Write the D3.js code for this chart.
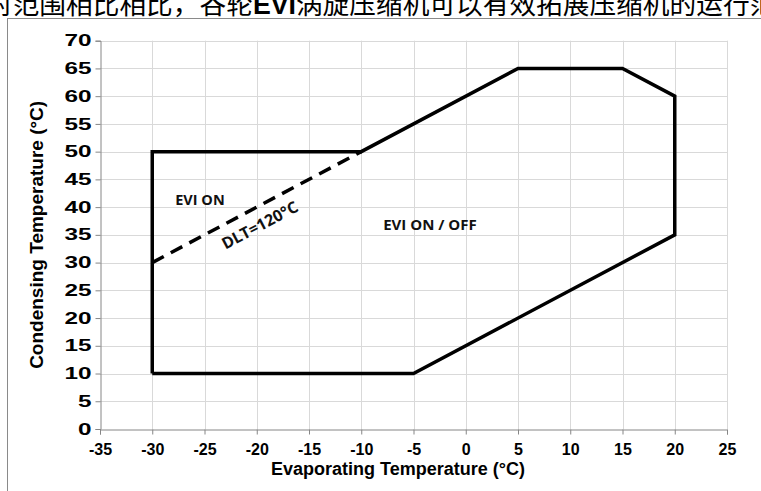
<!DOCTYPE html>
<html><head><meta charset="utf-8">
<script src="https://cdn.jsdelivr.net/npm/d3@7"></script>
<style>html,body{margin:0;padding:0;background:#fff;overflow:hidden}</style>
</head><body>
<svg id="c" width="761" height="491"></svg>
<script>
const topText = "对范围相比相比，谷轮EVI涡旋压缩机可以有效拓展压缩机的运行范围";
const xTicks = [-35,-30,-25,-20,-15,-10,-5,0,5,10,15,20,25];
const yTicks = [0,5,10,15,20,25,30,35,40,45,50,55,60,65,70];
const envelopeX = [-30,-30,-10,5,15,20,20,-5,-30];
const envelopeY = [10,50,50,65,65,60,35,10,10];
const dltX = [-30,-10];
const dltY = [30,50];
const labels = [
  {text:"EVI ON", x:-27.8, y:40.4, rot:false, size:14.5},
  {text:"EVI ON / OFF", x:-7.9, y:35.9, rot:false, size:15},
  {text:"DLT=120°C", x:-23.0, y:32.3, rot:true, size:16}
];

const svg = d3.select("#c");
const x = d3.scaleLinear().domain([-35,25]).range([100,727]);
const y = d3.scaleLinear().domain([0,70]).range([429,40.7]);

// top cut text
const tt = svg.append("text").attr("x",-14).attr("y",14)
  .attr("font-family","'Noto Sans CJK SC', sans-serif").attr("font-size",26.7)
  .attr("fill","#000");
tt.append("tspan").text(topText.slice(0,10));
tt.append("tspan").attr("font-family","'Liberation Sans', Arial, sans-serif").attr("font-weight","bold").text("EVI");
tt.append("tspan").text(topText.slice(13));
// frame
svg.append("rect").attr("x",7.5).attr("y",18.5).attr("width",900).attr("height",700)
  .attr("fill","#fff").attr("stroke","#8a8a8a").attr("stroke-width",1);

// grid
const g = svg.append("g");
g.selectAll("line.vg").data(xTicks.slice(1)).join("line")
  .attr("x1",d=>Math.round(x(d))+0.5).attr("x2",d=>Math.round(x(d))+0.5)
  .attr("y1",y(70)).attr("y2",y(0)).attr("stroke","#d9d9d9").attr("stroke-width",1);
g.selectAll("line.hg").data(yTicks.slice(1)).join("line")
  .attr("y1",d=>Math.round(y(d))+0.5).attr("y2",d=>Math.round(y(d))+0.5)
  .attr("x1",x(-35)).attr("x2",x(25)).attr("stroke","#d9d9d9").attr("stroke-width",1);

// axes
const xAxis = svg.append("g").attr("transform",`translate(0,${Math.round(y(0))+0.5})`)
  .call(d3.axisBottom(x).tickValues(xTicks).tickSize(5).tickPadding(9).tickFormat(d3.format("d")));
const yAxis = svg.append("g").attr("transform",`translate(${Math.round(x(-35))+0.5},0)`)
  .call(d3.axisLeft(y).tickValues(yTicks).tickSize(5).tickPadding(4).tickFormat(d3.format("d")));
[xAxis,yAxis].forEach(a=>{
  a.select(".domain").attr("stroke","#868686");
  a.selectAll(".tick line").attr("stroke","#868686");
  a.selectAll(".tick text").attr("fill","#000")
    .attr("font-family","'Liberation Sans', Arial, sans-serif").attr("font-weight","bold").attr("font-size",16);
});
xAxis.selectAll(".tick text").text(d=>d<0?"-"+Math.abs(d):d);
yAxis.selectAll(".tick text").attr("textLength",d=>String(d).length*13.5).attr("lengthAdjust","spacingAndGlyphs");

// titles
svg.append("text").attr("x",398).attr("y",475).attr("text-anchor","middle")
  .attr("font-family","'Liberation Sans', Arial, sans-serif").attr("font-weight","bold").attr("font-size",18)
  .text("Evaporating Temperature (°C)");
svg.append("text").attr("transform",`translate(43,${(y(0)+y(70))/2}) rotate(-90)`).attr("text-anchor","middle")
  .attr("font-family","'Liberation Sans', Arial, sans-serif").attr("font-weight","bold").attr("font-size",19)
  .text("Condensing Temperature (°C)");

// envelope
const env = envelopeX.map((d,i)=>[d,envelopeY[i]]);
svg.append("path").datum(env)
  .attr("d",d3.line().x(d=>x(d[0])).y(d=>y(d[1])))
  .attr("fill","none").attr("stroke","#000").attr("stroke-width",3.5).attr("stroke-linejoin","miter");
const dlt = dltX.map((d,i)=>[d,dltY[i]]);
svg.append("path").datum(dlt)
  .attr("d",d3.line().x(d=>x(d[0])).y(d=>y(d[1])))
  .attr("fill","none").attr("stroke","#000").attr("stroke-width",3.5).attr("stroke-dasharray","13,8");

// labels
const ang = -Math.atan2(y(0)-y(5), x(5)-x(0))*180/Math.PI;
labels.forEach(l=>{
  const t = svg.append("text").attr("font-family","'Open Sans', sans-serif").attr("font-weight","bold")
    .attr("font-size",l.size).attr("fill","#111").text(l.text);
  if(l.rot) t.attr("transform",`translate(${x(l.x)},${y(l.y)}) rotate(${ang})`);
  else t.attr("x",x(l.x)).attr("y",y(l.y));
});
</script>
</body></html>
